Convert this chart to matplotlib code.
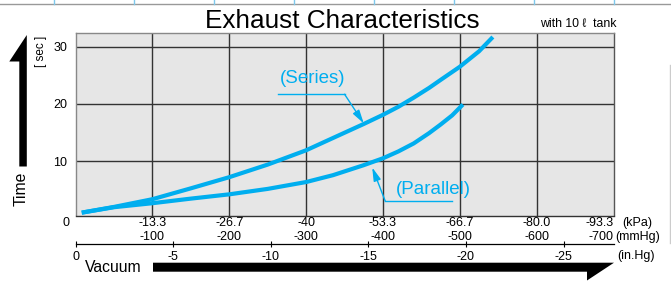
import numpy as np
import matplotlib
matplotlib.use('Agg')
from matplotlib import pyplot as plt
from matplotlib.patches import Polygon

plt.rcParams['font.family'] = ['Liberation Sans', 'DejaVu Sans']

BLUE = '#00AEEF'

# exhaust time [sec] vs vacuum [mmHg]
series_mmhg = [8, 50, 100, 150, 200, 250, 300, 335, 375, 400, 420, 440, 460, 475, 500, 525, 543]
series_sec = [1.0, 2.0, 3.35, 5.25, 7.2, 9.4, 11.9, 14.05, 16.5, 18.1, 19.5, 21.1, 22.8, 24.2,
              26.5, 29.2, 31.7]

parallel_mmhg = [8, 50, 100, 150, 200, 250, 300, 335, 375, 400, 420, 440, 460, 475, 490, 504]
parallel_sec = [1.0, 1.95, 2.65, 3.45, 4.2, 5.15, 6.35, 7.55, 9.3, 10.5, 11.7, 13.1, 14.9,
                16.4, 18.0, 19.9]

mmhg_ticks = [100, 200, 300, 400, 500, 600, 700]
kpa_labels = ['-13.3', '-26.7', '-40', '-53.3', '-66.7', '-80.0', '-93.3']
mmhg_labels = ['-100', '-200', '-300', '-400', '-500', '-600', '-700']
inhg_ticks = [0, 5, 10, 15, 20, 25]
inhg_labels = ['0', '-5', '-10', '-15', '-20', '-25']
sec_ticks = [10, 20, 30]

W, H = 671, 282
fig = plt.figure(figsize=(W / 100, H / 100), dpi=100)

# overlay in pixel coords for the decorations
deco = fig.add_axes([0, 0, 1, 1])
deco.set_xlim(0, W)
deco.set_ylim(H, 0)
deco.axis('off')

# bits of the table above that got cropped in
deco.plot([0, W], [4, 4], color='#999999', lw=1)
for xp in np.arange(54, 620, 80):
    deco.plot([xp, xp], [0, 4], color='#7fc8ec', lw=1)
deco.plot([670, 670], [65, 243], color='#cccccc', lw=1)

# big arrows
deco.add_patch(Polygon([[19.3, 166.5], [19.3, 61.5], [9.3, 61.5], [26.8, 35],
                        [26.8, 166.5]], closed=True, color='black', lw=0))
deco.add_patch(Polygon([[153, 262.7], [614, 262.7], [587, 280.5], [587, 271.7],
                        [153, 271.7]], closed=True, color='black', lw=0))
deco.text(21.5, 189, 'Time', rotation=90, ha='center', va='center', fontsize=11.3)
deco.text(41, 51, '[ sec ]', rotation=90, ha='center', va='center', fontsize=8.5)
deco.text(113.5, 267, 'Vacuum', ha='center', va='center', fontsize=11.3)
deco.text(342.5, 20.5, 'Exhaust Characteristics', ha='center', va='center', fontsize=18.8)
deco.text(578, 24, 'with 10 \u2113  tank', ha='center', va='center', fontsize=8.8)

ax = fig.add_axes([75.6 / W, 1 - 215.5 / H, (613.5 - 75.6) / W, (215.5 - 33) / H])
ax.set_facecolor('#e6e6e6')
ax.set_xlim(0, 700)
ax.set_ylim(0.5, 32.4)

ax.set_xticks(mmhg_ticks[:-1])
ax.set_yticks(sec_ticks)
ax.tick_params(axis='x', length=0, labelbottom=False)
ax.tick_params(axis='y', length=0, pad=6, labelsize=9)
ax.grid(True, color='#333333', lw=1.0)
ax.set_axisbelow(True)
for side, c in [('top', '#888888'), ('left', '#888888'), ('right', '#555555'), ('bottom', '#333333')]:
    ax.spines[side].set_color(c)
    ax.spines[side].set_linewidth(1.0)

ax.plot(series_mmhg, series_sec, color=BLUE, lw=3.0, solid_capstyle='butt',
        solid_joinstyle='round', zorder=3)
ax.plot(parallel_mmhg, parallel_sec, color=BLUE, lw=3.0, solid_capstyle='butt',
        solid_joinstyle='round', zorder=3)

# labels with leader lines
ax.text(308, 24.4, '(Series)', color=BLUE, fontsize=13.5, ha='center', va='center')
ax.plot([264, 350], [21.7, 21.7], color=BLUE, lw=1, clip_on=False)
ax.annotate('', xy=(375, 16.6), xytext=(350, 21.7),
            arrowprops=dict(arrowstyle='-|>,head_length=0.8,head_width=0.22', color=BLUE, lw=1,
                            shrinkA=0, shrinkB=0))
ax.text(465, 5.0, '(Parallel)', color=BLUE, fontsize=13.5, ha='center', va='center')
ax.plot([403, 490], [3.0, 3.0], color=BLUE, lw=1, clip_on=False)
ax.annotate('', xy=(386, 8.9), xytext=(403, 3.0),
            arrowprops=dict(arrowstyle='-|>,head_length=0.8,head_width=0.22', color=BLUE, lw=1,
                            shrinkA=0, shrinkB=0))

# kPa / mmHg rows
lab = dict(xycoords=('data', 'axes fraction'), textcoords='offset pixels', va='center', fontsize=9)
for mm, kpa, mmg in zip(mmhg_ticks, kpa_labels, mmhg_labels):
    ha = 'right' if mm == 700 else 'center'
    ax.annotate(kpa, (mm, 0), xytext=(0, -7.5), ha=ha, **lab)
    ax.annotate(mmg, (mm, 0), xytext=(0, -21.5), ha=ha, **lab)
ax.annotate('(kPa)', (700, 0), xytext=(24, -7.5), ha='center', **lab)
ax.annotate('(mmHg)', (700, 0), xytext=(24, -21.5), ha='center', **lab)
ax.annotate('(in.Hg)', (700, 0), xytext=(23, -40.5), ha='center', **lab)
ax.annotate('0', (0, 0), xytext=(-10, -7.5), ha='center', **lab)

# in.Hg scale
sec = ax.secondary_xaxis(-(244.3 - 215.5) / (215.5 - 33),
                         functions=(lambda mm: mm / 25.4, lambda inch: inch * 25.4))
sec.set_xticks(inhg_ticks)
sec.set_xticklabels(inhg_labels)
sec.tick_params(direction='inout', length=4, width=0.8, pad=3, labelsize=9)
sec.spines['bottom'].set_linewidth(0.9)

fig.savefig('out.png', dpi=100)
